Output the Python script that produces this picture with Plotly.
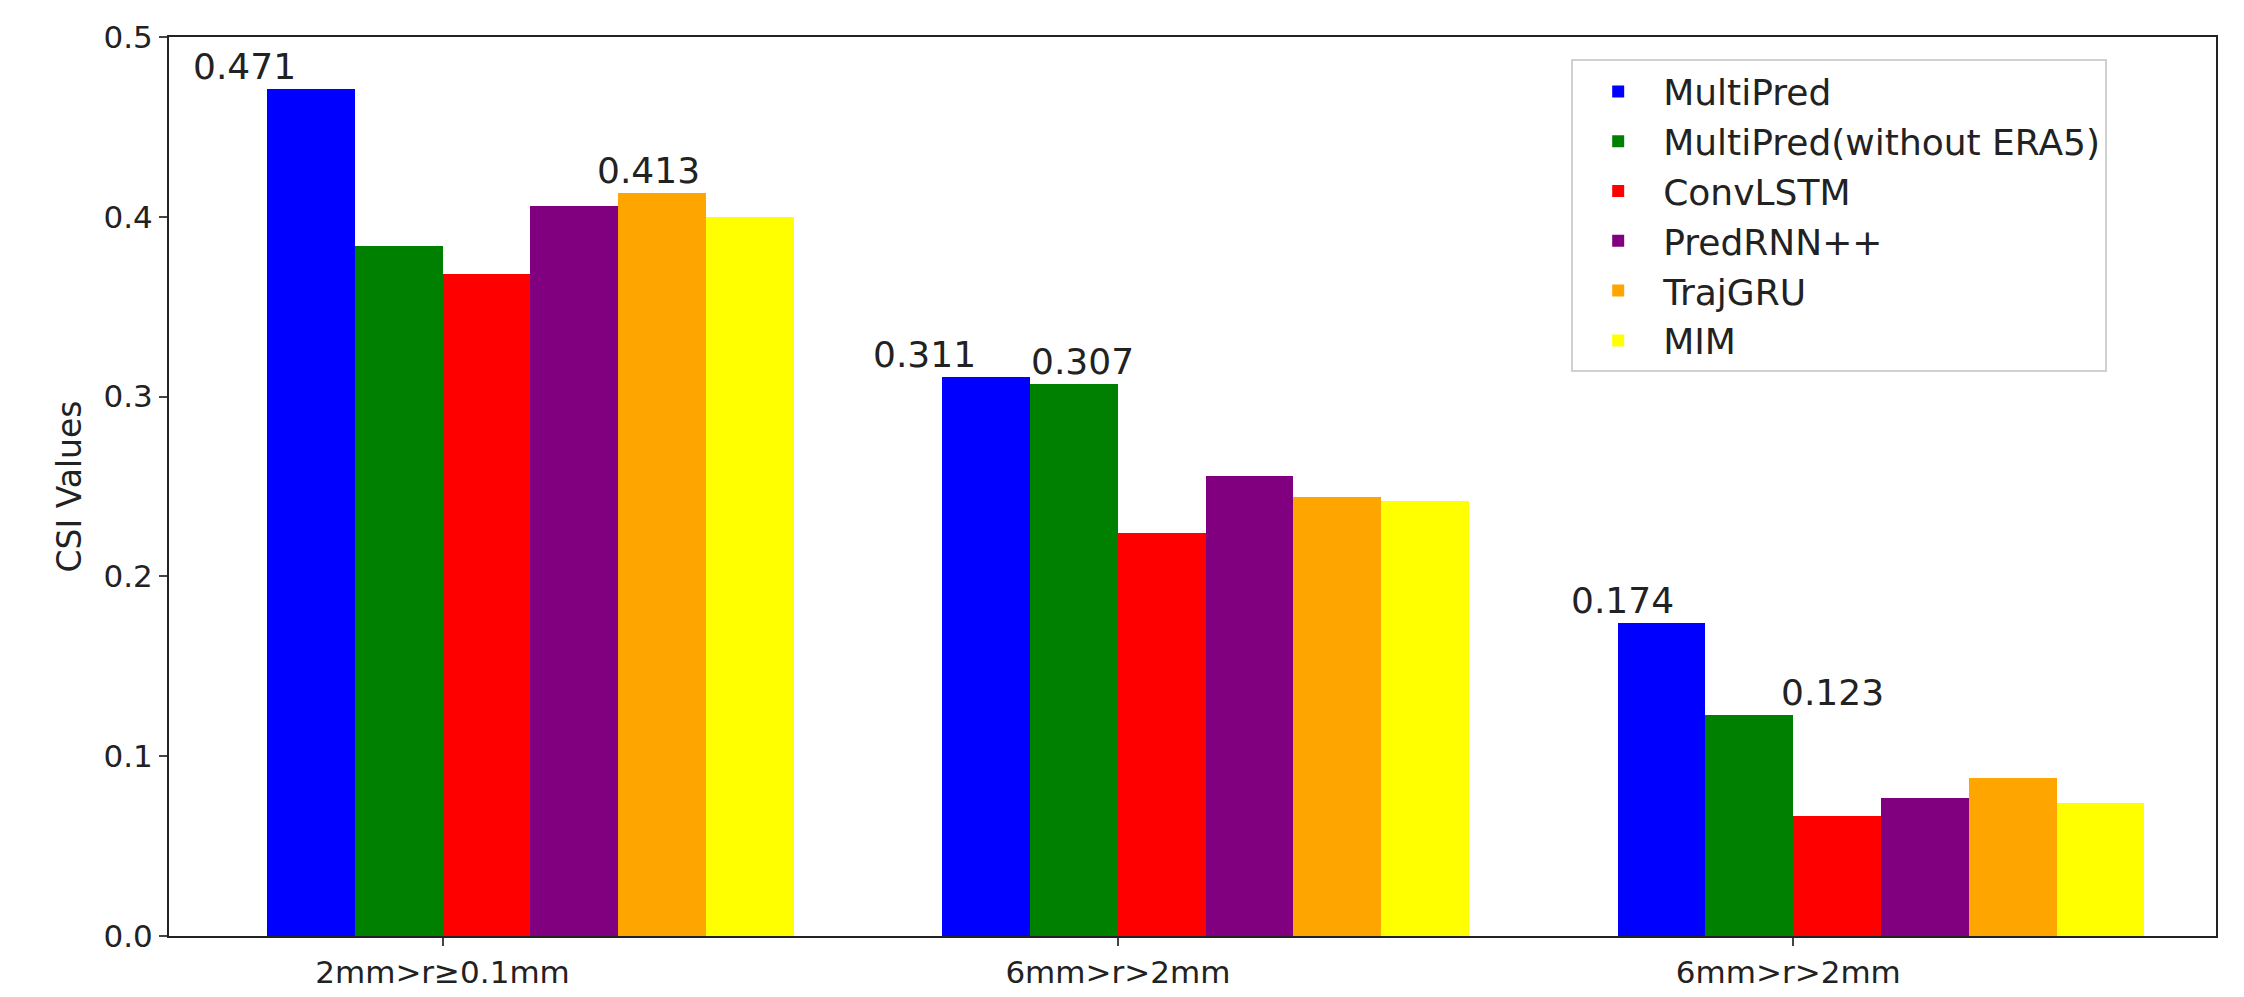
import plotly.graph_objects as go

categories = ["2mm>r≥0.1mm", "6mm>r>2mm", "6mm>r>2mm "]
models = ["MultiPred", "MultiPred(without ERA5)", "ConvLSTM", "PredRNN++", "TrajGRU", "MIM"]
colors = ["#0000ff", "#008000", "#ff0000", "#800080", "#ffa500", "#ffff00"]
values = {
    "MultiPred": [0.471, 0.311, 0.174],
    "MultiPred(without ERA5)": [0.384, 0.307, 0.123],
    "ConvLSTM": [0.368, 0.224, 0.067],
    "PredRNN++": [0.406, 0.256, 0.077],
    "TrajGRU": [0.413, 0.244, 0.088],
    "MIM": [0.400, 0.242, 0.074],
}
# (model index, group index, horizontal label shift in bar widths)
labels = [(0, 0, -0.75), (4, 0, -0.15), (0, 1, -0.7), (1, 1, 0.1), (0, 2, -0.45), (1, 2, 0.95)]

W = 0.13
fig = go.Figure()
for i, m in enumerate(models):
    xs = [g + (i - 2.5) * W for g in range(3)]
    fig.add_trace(go.Bar(x=xs, y=values[m], name=m, width=W, marker_color=colors[i],
                         marker_line_width=0))

for i, g, s in labels:
    v = values[models[i]][g]
    fig.add_annotation(x=g + (i - 2.5 + s) * W, y=v, text=f"{v:.3f}", showarrow=False,
                       yanchor="bottom", yshift=0, font=dict(size=36, color="#222"))

fig.update_layout(
    width=2244, height=997, plot_bgcolor="white", paper_bgcolor="white",
    margin=dict(l=161, r=36, t=29, b=69),
    font=dict(family="DejaVu Sans", color="#222"),
    bargap=0,
    legend=dict(x=0.685, y=0.975, xanchor="left", yanchor="top", bgcolor="white",
                bordercolor="#d0d0d0", borderwidth=2, font=dict(size=36), itemwidth=80),
    xaxis=dict(range=[-0.535, 2.496], tickvals=[-0.13, 0.87, 1.87], ticktext=categories,
               showline=True, linecolor="#222", linewidth=2, mirror=True, ticks="outside",
               ticklen=8, tickwidth=2, tickfont=dict(size=31), showgrid=False, zeroline=False),
    yaxis=dict(range=[0, 0.5], dtick=0.1, tickformat=".1f", showline=True, linecolor="#222",
               linewidth=2, mirror=True, ticks="outside", ticklen=8, tickwidth=2,
               tickfont=dict(size=31), showgrid=False, zeroline=False,
               title=dict(text="CSI Values", font=dict(size=33), standoff=12)),
)
fig.write_html("out.html")
